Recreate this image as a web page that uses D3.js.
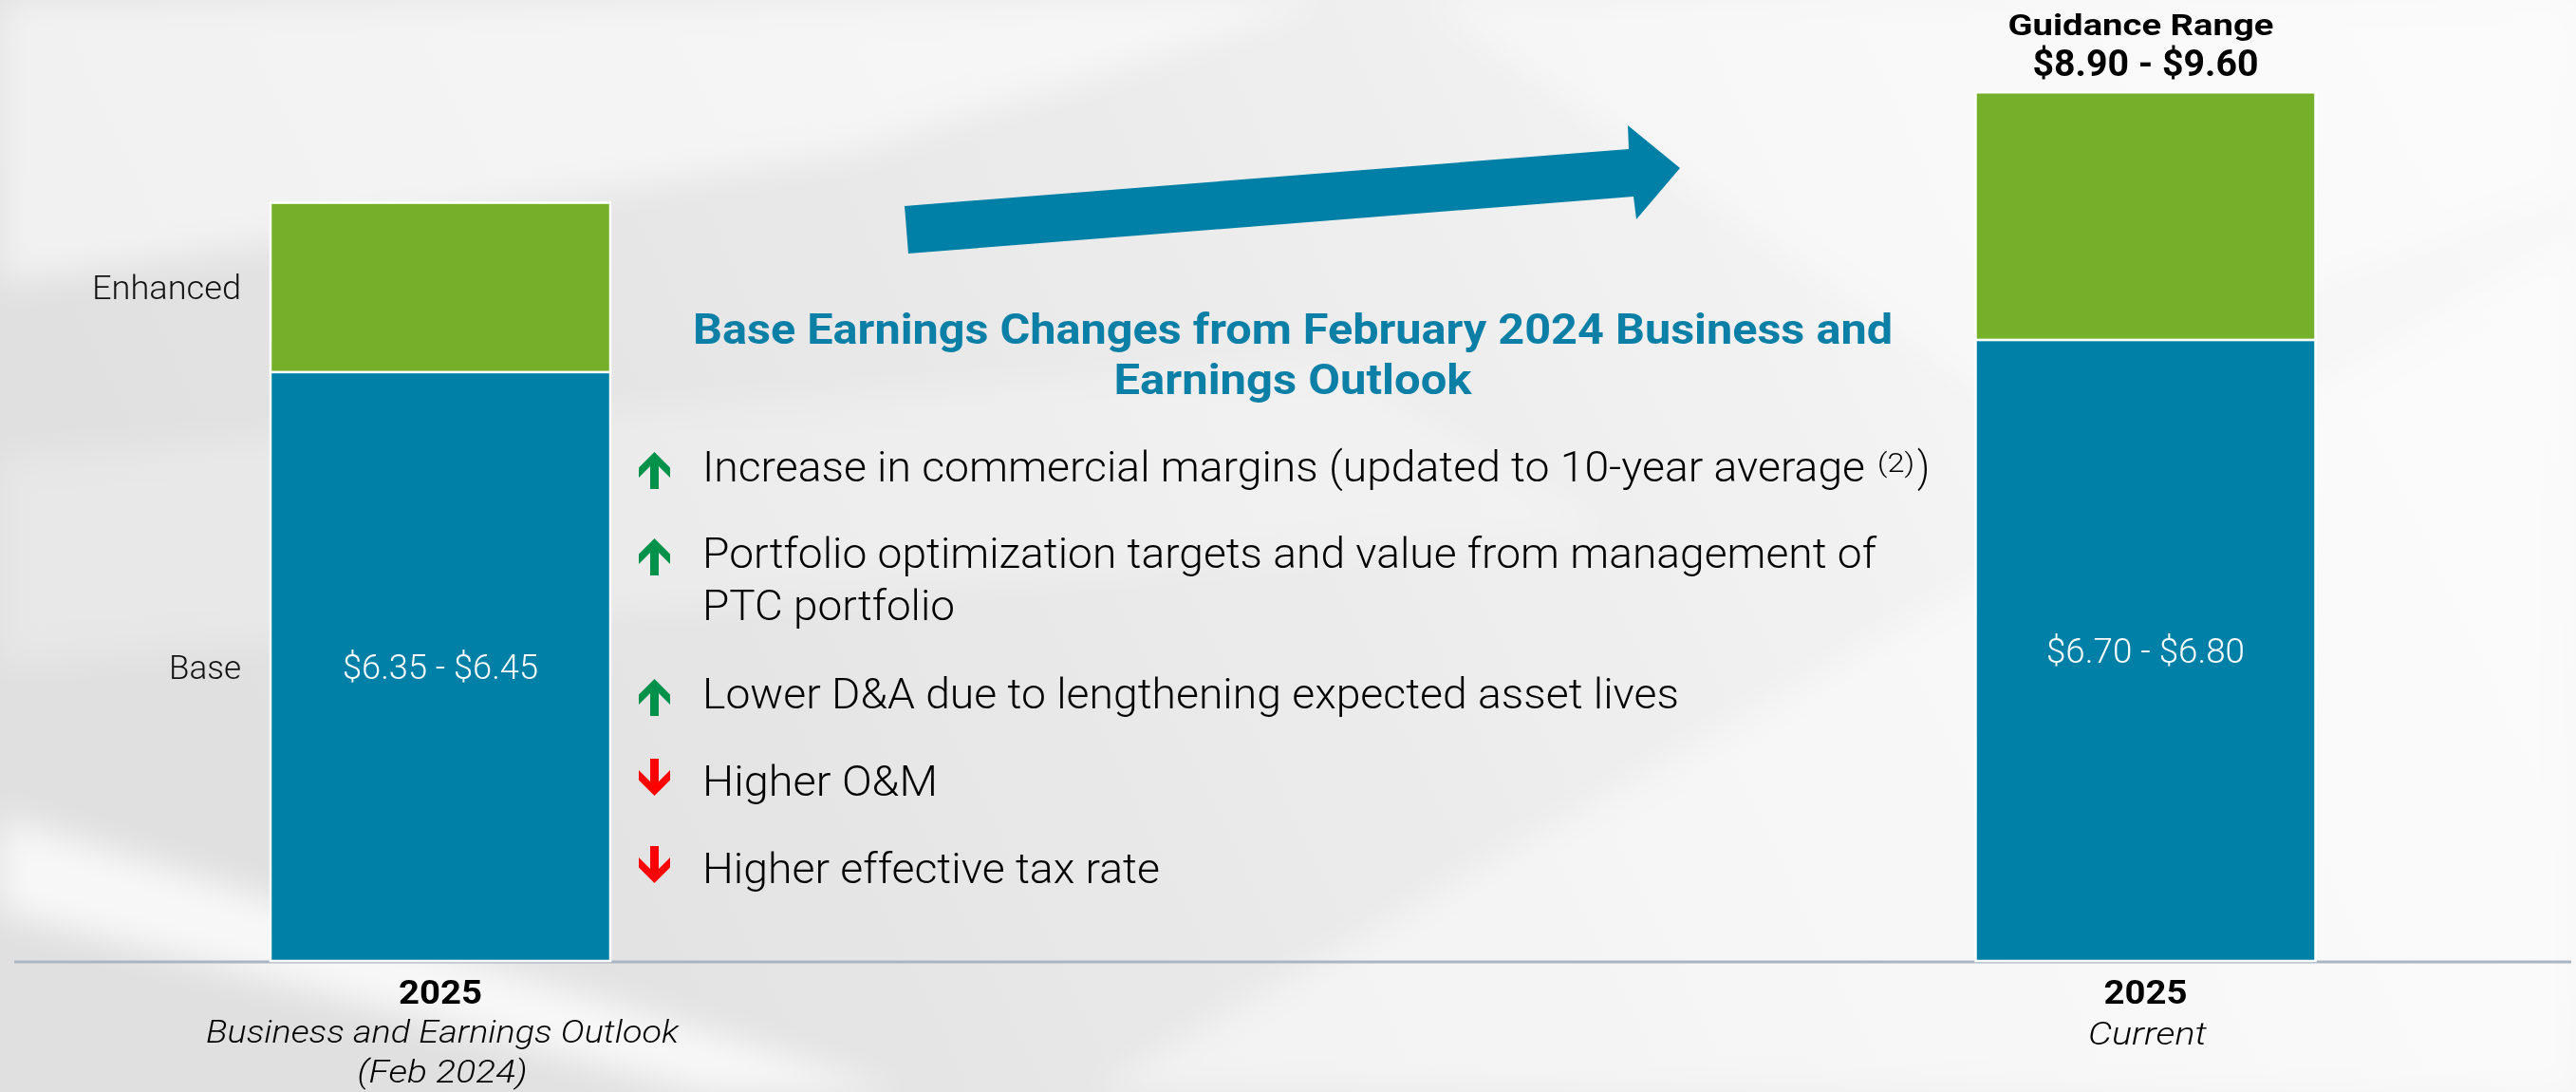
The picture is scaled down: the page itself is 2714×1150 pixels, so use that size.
<!DOCTYPE html>
<html lang="en">
<head>
    <meta charset="utf-8">
    <title>2025 Earnings Guidance</title>
    <script type="text/javascript" src="https://d3js.org/d3.v7.min.js"></script>
    <style>
        body{
            margin: 0;
            overflow: hidden;
            background: #eeeeee;
        }
        text{
            font-family: Roboto, "Noto Sans", sans-serif;
        }
    </style>
</head>
<body>
    <div id="chart"></div>
    <script type="text/javascript">
        // values
        const categories = ["feb2024", "current"];
        const years = ["2025", "2025"];
        const subtitles = [["Business and Earnings Outlook", "(Feb 2024)"], ["Current"]];
        const seriesNames = ["Base", "Enhanced"];
        const baseValues = [6.40, 6.75];
        const enhancedValues = [1.84, 2.69];
        const baseLabels = ["$6.35 - $6.45", "$6.70 - $6.80"];
        const guidanceLabels = ["Guidance Range", "$8.90 - $9.60"];
        const titleLines = ["Base Earnings Changes from February 2024 Business and", "Earnings Outlook"];
        const bulletTexts = [
            ["Increase in commercial margins (updated to 10-year average"],
            ["Portfolio optimization targets and value from management of", "PTC portfolio"],
            ["Lower D&A due to lengthening expected asset lives"],
            ["Higher O&M"],
            ["Higher effective tax rate"]
        ];
        const bulletDirections = ["up", "up", "up", "down", "down"];

        const width = 2714;
        const height = 1150;
        const baseline = 1012;
        const barWidth = 358;

        const blue = "#0080a6";
        const green = "#76b02a";

        const svg = d3.select("#chart")
            .append("svg")
            .attr("width", width)
            .attr("height", height);

        // background with soft light streaks
        const defs = svg.append("defs");
        const bg = defs.append("linearGradient")
            .attr("id", "bg")
            .attr("x1", 0).attr("y1", 0.2).attr("x2", 1).attr("y2", 0);
        bg.append("stop").attr("offset", 0).attr("stop-color", "#e0e0e0");
        bg.append("stop").attr("offset", 0.45).attr("stop-color", "#ececec");
        bg.append("stop").attr("offset", 0.75).attr("stop-color", "#f5f5f5");
        bg.append("stop").attr("offset", 1).attr("stop-color", "#f9f9f9");
        defs.append("filter").attr("id", "blur")
            .append("feGaussianBlur").attr("stdDeviation", 18);

        svg.append("rect")
            .attr("width", width).attr("height", height)
            .attr("fill", "url(#bg)");

        const streaks = [
            {pts: [[0, 0], [1400, 0], [900, 160], [0, 300]], op: 0.55},
            {pts: [[0, 860], [0, 960], [750, 1150], [950, 1150]], op: 0.75},
            {pts: [[1150, 1150], [2714, 250], [2714, 1150]], op: 0.45},
            {pts: [[1500, 0], [2714, 0], [2714, 200], [2100, 420]], op: 0.4},
            {pts: [[0, 480], [1400, 380], [1700, 560], [0, 700]], op: 0.25}
        ];
        svg.append("g")
            .attr("filter", "url(#blur)")
            .selectAll("polygon")
            .data(streaks)
            .enter()
            .append("polygon")
                .attr("points", d => d.pts.map(p => p.join(",")).join(" "))
                .attr("fill", "#ffffff")
                .attr("opacity", d => d.op);

        // scales
        const x = d3.scalePoint()
            .domain(categories)
            .range([464, 2260.5]);

        const y = d3.scaleLinear()
            .domain([0, 10])
            .range([baseline, baseline - 969]);

        const dataset = categories.map((c, i) => ({cat: c, Base: baseValues[i], Enhanced: enhancedValues[i]}));
        const stacked = d3.stack().keys(seriesNames)(dataset);
        const color = d3.scaleOrdinal().domain(seriesNames).range([blue, green]);

        // axis line
        svg.append("line")
            .attr("x1", 15).attr("x2", 2709)
            .attr("y1", baseline + 1).attr("y2", baseline + 1)
            .attr("stroke", "#a9b5c0")
            .attr("stroke-width", 3);

        // stacked bars
        svg.append("g")
            .selectAll("g")
            .data(stacked)
            .enter()
            .append("g")
                .attr("fill", d => color(d.key))
            .selectAll("rect")
            .data(d => d)
            .enter()
            .append("rect")
                .attr("x", d => x(d.data.cat) - barWidth / 2)
                .attr("y", d => y(d[1]))
                .attr("width", barWidth)
                .attr("height", d => y(d[0]) - y(d[1]))
                .attr("stroke", "#ffffff")
                .attr("stroke-width", 2.5);

        // series labels next to left bar
        const firstCat = categories[0];
        svg.append("text")
            .attr("x", 254).attr("y", 315)
            .attr("text-anchor", "end")
            .attr("font-size", 35).attr("font-weight", 300)
            .attr("textLength", 157).attr("lengthAdjust", "spacingAndGlyphs")
            .attr("fill", "#111")
            .text(seriesNames[1]);
        svg.append("text")
            .attr("x", 254).attr("y", 715)
            .attr("text-anchor", "end")
            .attr("font-size", 35).attr("font-weight", 300)
            .attr("textLength", 76).attr("lengthAdjust", "spacingAndGlyphs")
            .attr("fill", "#111")
            .text(seriesNames[0]);

        // base range labels inside bars
        const baseLabelY = [715, 698];
        const baseLabelW = [206, 209];
        svg.append("g")
            .selectAll("text")
            .data(categories)
            .enter()
            .append("text")
                .attr("x", (d, i) => x(d) - baseLabelW[i] / 2)
                .attr("y", (d, i) => baseLabelY[i])
                .attr("font-size", 37).attr("font-weight", 300)
                .attr("textLength", (d, i) => baseLabelW[i])
                .attr("lengthAdjust", "spacingAndGlyphs")
                .attr("fill", "#ffffff")
                .text((d, i) => baseLabels[i]);

        // category labels below the axis
        const xLabels = svg.append("g");
        categories.forEach(function(c, i) {
            xLabels.append("text")
                .attr("x", x(c) - 44).attr("y", 1057)
                .attr("font-size", 35).attr("font-weight", 700)
                .attr("textLength", 88).attr("lengthAdjust", "spacingAndGlyphs")
                .attr("fill", "#000")
                .text(years[i]);
        });
        const subW = [[498, 179], [125]];
        const subY = [[1098, 1140], [1100]];
        categories.forEach(function(c, i) {
            subtitles[i].forEach(function(s, j) {
                xLabels.append("text")
                    .attr("x", x(c) + 2 - subW[i][j] / 2).attr("y", subY[i][j])
                    .attr("font-size", 34).attr("font-style", "italic").attr("font-weight", 300)
                    .attr("textLength", subW[i][j]).attr("lengthAdjust", "spacingAndGlyphs")
                    .attr("fill", "#000")
                    .text(s);
            });
        });

        // guidance range above right bar
        const lastCat = categories[1];
        svg.append("text")
            .attr("x", x(lastCat) - 5 - 140).attr("y", 37)
            .attr("font-size", 31).attr("font-weight", 700)
            .attr("textLength", 280).attr("lengthAdjust", "spacingAndGlyphs")
            .attr("fill", "#000")
            .text(guidanceLabels[0]);
        svg.append("text")
            .attr("x", x(lastCat) - 119).attr("y", 80)
            .attr("font-size", 38).attr("font-weight", 700)
            .attr("textLength", 238).attr("lengthAdjust", "spacingAndGlyphs")
            .attr("fill", "#000")
            .text(guidanceLabels[1]);

        // big trend arrow
        const bigArrow = [[953, 217], [1716, 157], [1715, 132], [1770, 177], [1724, 231], [1721, 207], [957, 267]];
        svg.append("polygon")
            .attr("points", bigArrow.map(p => p.join(",")).join(" "))
            .attr("fill", blue);

        // title
        const titleW = [1264, 377];
        const titleY = [362, 415];
        svg.append("g")
            .selectAll("text")
            .data(titleLines)
            .enter()
            .append("text")
                .attr("x", (d, i) => 1362 - titleW[i] / 2)
                .attr("y", (d, i) => titleY[i])
                .attr("font-size", 45).attr("font-weight", 700)
                .attr("textLength", (d, i) => titleW[i])
                .attr("lengthAdjust", "spacingAndGlyphs")
                .attr("fill", "#0b7fa6")
                .text(d => d);

        // bullets
        const bulletY = [[507], [598, 653], [746], [838], [930]];
        const bulletW = [[1225], [1237, 266], [1029], [248], [482]];
        const upPath = "M0,0 L16.5,16.5 L16.5,27 L4.5,15 L4.5,39 L-4.5,39 L-4.5,15 L-16.5,27 L-16.5,16.5 Z";
        const downPath = "M0,0 L16.5,-16.5 L16.5,-27 L4.5,-15 L4.5,-39 L-4.5,-39 L-4.5,-15 L-16.5,-27 L-16.5,-16.5 Z";
        const bulletG = svg.append("g");
        bulletTexts.forEach(function(lines, i) {
            const b = bulletY[i][0];
            if (bulletDirections[i] === "up") {
                bulletG.append("path")
                    .attr("d", upPath)
                    .attr("transform", `translate(689.5, ${b - 31})`)
                    .attr("fill", "#00924a");
            } else {
                bulletG.append("path")
                    .attr("d", downPath)
                    .attr("transform", `translate(689.5, ${b})`)
                    .attr("fill", "#ff0000");
            }
            lines.forEach(function(t, j) {
                bulletG.append("text")
                    .attr("x", 740).attr("y", bulletY[i][j])
                    .attr("font-size", 45).attr("font-weight", 300)
                    .attr("textLength", bulletW[i][j]).attr("lengthAdjust", "spacingAndGlyphs")
                    .attr("fill", "#000")
                    .text(t);
            });
        });
        // footnote marker on first bullet
        bulletG.append("text")
            .attr("x", 1978).attr("y", 497)
            .attr("font-size", 28).attr("font-weight", 300)
            .attr("textLength", 39).attr("lengthAdjust", "spacingAndGlyphs")
            .attr("fill", "#000")
            .text("(2)");
        bulletG.append("text")
            .attr("x", 2020).attr("y", 507)
            .attr("font-size", 45).attr("font-weight", 300)
            .attr("textLength", 13).attr("lengthAdjust", "spacingAndGlyphs")
            .attr("fill", "#000")
            .text(")");
    </script>
</body>
</html>
